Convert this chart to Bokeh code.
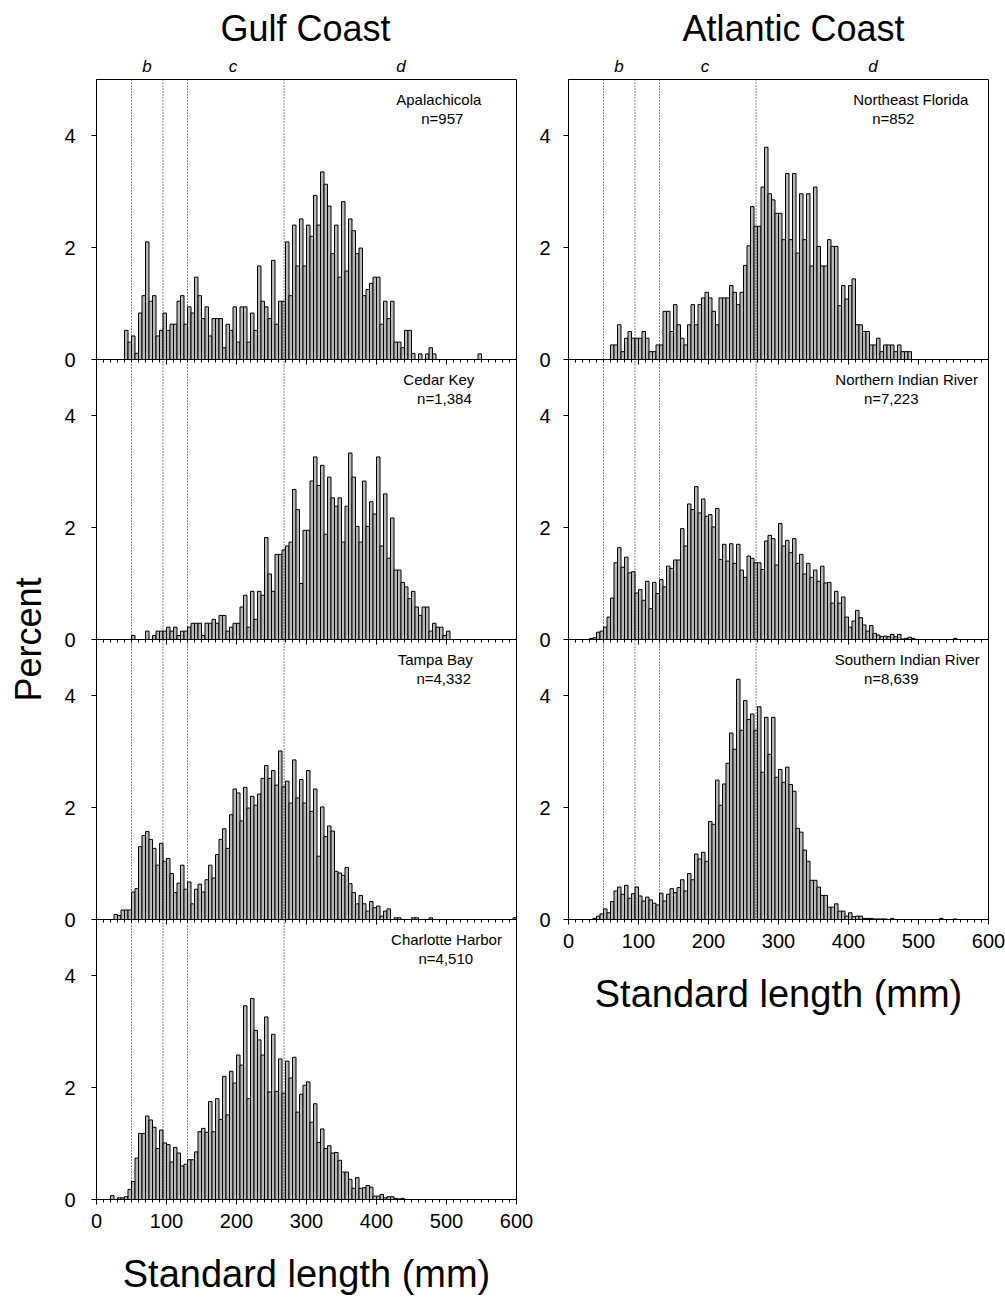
from bokeh.plotting import figure
from bokeh.models import (Range1d, LinearAxis, FixedTicker, SingleIntervalTicker,
                          Span, Label, Title, ColumnDataSource)
from bokeh.layouts import row
from bokeh.embed import file_html
from bokeh.resources import INLINE

FONT = "Liberation Sans"
BAR_FILL = "#b8b8b8"

# ---------------- data ----------------
bin_width = 5          # mm
x_limits = (0, 600)
y_limit = 5            # percent, per panel

age_bounds = [50, 95, 130, 268]
age_letters = ["b", "c", "d"]
age_letter_x = [72, 195, 435]
y_tick_values = [0, 2, 4]
y_tick_labels = ["0", "2", "4"]

gulf_sites = ["Apalachicola", "Cedar Key", "Tampa Bay", "Charlotte Harbor"]
gulf_counts = ["n=957", "n=1,384", "n=4,332", "n=4,510"]
atlantic_sites = ["Northeast Florida", "Northern Indian River", "Southern Indian River"]
atlantic_counts = ["n=852", "n=7,223", "n=8,639"]

# percent of fish per 5-mm bin; first value belongs to the bin starting at *_first
apalachicola_first = 40
apalachicola = [0.52, 0.31, 0.42, 0.11, 0.83, 1.14, 2.10, 1.04, 1.14, 0.42,
                0.52, 0.83, 0.52, 0.63, 0.63, 1.04, 1.14, 0.63, 0.94, 0.83,
                1.47, 1.14, 0.73, 0.94, 0.42, 0.73, 0.73, 0.73, 0.21, 0.63,
                0.52, 0.94, 0.31, 0.94, 0.94, 0.31, 0.83, 0.52, 1.67, 1.04,
                0.94, 0.73, 1.77, 0.63, 1.04, 1.04, 2.10, 1.14, 2.40, 1.67,
                2.51, 1.67, 2.40, 2.20, 2.93, 2.40, 3.35, 3.13, 2.74, 1.89,
                2.40, 1.47, 2.82, 1.58, 2.51, 2.30, 1.89, 1.99, 1.14, 1.25,
                1.36, 1.47, 1.47, 0.63, 1.04, 0.73, 1.04, 0.31, 0.31, 0.21,
                0.52, 0.52, 0.11, 0.00, 0.10, 0.00, 0.10, 0.21, 0.10, 0.00,
                0.00, 0.00, 0.00, 0.00, 0.00, 0.00, 0.00, 0.00, 0.00, 0.00,
                0.00, 0.10]

cedar_key_first = 50
cedar_key = [0.07, 0.00, 0.00, 0.00, 0.15, 0.00, 0.07, 0.15, 0.15, 0.15,
             0.22, 0.15, 0.22, 0.07, 0.15, 0.15, 0.22, 0.29, 0.29, 0.29,
             0.07, 0.29, 0.29, 0.36, 0.29, 0.43, 0.43, 0.15, 0.22, 0.29,
             0.29, 0.58, 0.79, 0.22, 0.86, 0.36, 0.86, 0.79, 1.82, 1.17,
             0.86, 1.52, 1.52, 1.60, 1.67, 1.74, 2.68, 2.32, 1.00, 1.95,
             1.95, 2.83, 3.26, 2.75, 3.11, 1.88, 2.90, 2.53, 2.38, 2.53,
             1.74, 2.38, 3.33, 2.90, 2.02, 1.74, 2.83, 2.02, 2.46, 2.24,
             3.26, 1.67, 2.60, 1.45, 2.17, 1.24, 1.24, 1.02, 0.94, 0.73,
             0.86, 0.58, 0.43, 0.58, 0.58, 0.15, 0.29, 0.22, 0.22, 0.07,
             0.15]

tampa_bay_first = 25
tampa_bay = [0.09, 0.07, 0.17, 0.17, 0.17,
             0.49, 0.55, 1.30, 1.50, 1.57, 1.43, 1.27, 0.97, 1.36, 1.04,
             1.09, 0.82, 0.48, 0.65, 0.97, 0.54, 0.67, 0.28, 0.54, 0.63,
             0.49, 0.71, 0.97, 0.74, 1.16, 1.43, 1.62, 1.27, 1.87, 2.33,
             2.26, 1.76, 2.36, 1.99, 2.20, 2.04, 2.24, 2.52, 2.75, 2.52,
             2.66, 2.40, 3.01, 2.37, 2.47, 2.08, 2.85, 2.17, 2.50, 2.08,
             2.66, 1.93, 2.33, 1.13, 2.01, 1.48, 1.67, 1.58, 0.86, 0.83,
             0.79, 0.93, 0.64, 0.48, 0.28, 0.43, 0.28, 0.15, 0.32, 0.21,
             0.24, 0.06, 0.15, 0.19, 0.00, 0.03, 0.03, 0.00, 0.00, 0.00,
             0.03, 0.03, 0.00, 0.00, 0.00, 0.03, 0.00, 0.00, 0.00, 0.00,
             0.00, 0.00, 0.00, 0.00, 0.00, 0.00, 0.00, 0.00, 0.00, 0.00,
             0.00, 0.00, 0.00, 0.00, 0.00, 0.00, 0.00, 0.00, 0.00, 0.03]

charlotte_harbor_first = 20
charlotte_harbor = [0.07, 0.00, 0.03, 0.03, 0.05, 0.18,
                    0.32, 0.74, 1.18, 1.18, 1.49, 1.42, 1.29, 0.91, 1.24, 1.01,
                    0.98, 0.67, 0.93, 0.83, 0.60, 0.63, 0.71, 0.71, 0.85, 1.21,
                    1.27, 1.20, 1.75, 1.21, 1.80, 1.43, 2.20, 1.51, 2.29, 2.08,
                    2.58, 2.40, 3.46, 1.80, 3.59, 3.02, 2.85, 2.58, 3.26, 1.92,
                    2.95, 1.93, 2.51, 1.90, 2.47, 2.17, 2.54, 1.56, 1.88, 2.04,
                    2.10, 1.38, 1.71, 1.02, 1.26, 0.91, 0.96, 0.83, 0.84, 0.70,
                    0.49, 0.49, 0.36, 0.20, 0.39, 0.20, 0.21, 0.25, 0.22, 0.06,
                    0.06, 0.09, 0.03, 0.05, 0.05, 0.02, 0.01, 0.02]

northeast_florida_first = 60
northeast_florida = [0.26, 0.26, 0.62, 0.14, 0.38, 0.50, 0.38, 0.38, 0.38, 0.50,
                     0.38, 0.14, 0.14, 0.26, 0.26, 0.86, 0.86, 0.50, 0.98, 0.62,
                     0.38, 0.26, 0.62, 0.98, 0.62, 0.98, 1.10, 1.20, 1.10, 0.86,
                     0.62, 1.10, 1.10, 1.10, 1.32, 1.20, 0.98, 1.20, 1.68, 2.03,
                     2.73, 2.38, 2.38, 3.08, 3.79, 2.96, 2.85, 2.61, 2.61, 2.14,
                     3.32, 2.14, 3.32, 1.90, 2.96, 2.14, 2.96, 1.67, 3.08, 2.02,
                     1.67, 1.67, 2.14, 2.02, 2.02, 0.96, 1.32, 1.08, 1.32, 1.44,
                     0.62, 0.62, 0.50, 0.50, 0.26, 0.26, 0.38, 0.14, 0.26, 0.26,
                     0.26, 0.14, 0.26, 0.14, 0.14, 0.14]

northern_indian_river_first = 30
northern_indian_river = [0.02, 0.03, 0.13, 0.15,
                         0.22, 0.40, 0.74, 1.37, 1.64, 1.29, 1.47, 1.19, 1.21, 0.83,
                         0.89, 0.70, 1.04, 0.55, 1.02, 0.82, 1.07, 0.94, 1.31, 1.27,
                         1.42, 1.42, 1.98, 1.67, 2.42, 2.32, 2.73, 2.26, 2.51, 2.20,
                         2.23, 2.01, 2.34, 1.43, 1.70, 1.40, 1.71, 1.36, 1.70, 1.24,
                         1.11, 1.49, 1.45, 1.37, 1.37, 1.25, 1.76, 1.86, 1.80, 1.33,
                         2.07, 1.67, 1.77, 1.55, 1.80, 1.36, 1.52, 1.17, 1.36, 1.11,
                         1.24, 1.04, 1.31, 1.01, 1.02, 0.65, 0.86, 0.65, 0.76, 0.40,
                         0.22, 0.33, 0.52, 0.39, 0.26, 0.15, 0.25, 0.11, 0.08, 0.05,
                         0.06, 0.05, 0.09, 0.05, 0.09, 0.01, 0.02, 0.04, 0.02, 0.00,
                         0.00, 0.00, 0.00, 0.00, 0.00, 0.00, 0.00, 0.00, 0.00, 0.00,
                         0.02]

southern_indian_river_first = 35
southern_indian_river = [0.02, 0.06, 0.10,
                         0.19, 0.12, 0.32, 0.51, 0.58, 0.45, 0.61, 0.38, 0.46, 0.58,
                         0.42, 0.33, 0.40, 0.35, 0.29, 0.26, 0.47, 0.33, 0.45, 0.55,
                         0.48, 0.57, 0.71, 0.51, 0.82, 0.71, 1.17, 1.08, 1.20, 1.04,
                         1.75, 1.70, 2.49, 2.04, 2.42, 2.79, 3.33, 3.04, 4.29, 3.38,
                         3.91, 3.57, 3.67, 3.38, 3.80, 2.63, 3.61, 2.95, 3.61, 2.54,
                         2.68, 2.45, 2.72, 2.41, 2.29, 1.63, 1.56, 1.24, 1.04, 0.70,
                         0.70, 0.58, 0.43, 0.43, 0.22, 0.22, 0.28, 0.15, 0.15, 0.06,
                         0.12, 0.05, 0.06, 0.06, 0.02, 0.02, 0.02, 0.01, 0.01, 0.01,
                         0.01, 0.00, 0.02, 0.00, 0.00, 0.00, 0.00, 0.00, 0.00, 0.00,
                         0.00, 0.00, 0.00, 0.00, 0.00, 0.00, 0.02, 0.00, 0.00, 0.00,
                         0.01]

gulf_series = [(apalachicola_first, apalachicola), (cedar_key_first, cedar_key),
               (tampa_bay_first, tampa_bay), (charlotte_harbor_first, charlotte_harbor)]
atlantic_series = [(northeast_florida_first, northeast_florida),
                   (northern_indian_river_first, northern_indian_river),
                   (southern_indian_river_first, southern_indian_river)]

# ---------------- layout constants ----------------
gulf_name_x = [489, 489, 484, 500]
gulf_count_x = [494, 497, 496, 499]
atlantic_name_x = [489, 483, 484]
atlantic_count_x = [464, 461, 461]
NAME_Y = 4.64
COUNT_Y = 4.31
PX_PER_UNIT = 56.0


def centers(first, values):
    return [first + bin_width * i + bin_width / 2 for i in range(len(values))]


def column_figure(series, sites, counts, name_x, count_x, title, title_offset,
                  border_left, border_right, y_label, y_standoff):
    n = len(series)
    p = figure(frame_width=420, frame_height=280 * n,
               x_range=Range1d(*x_limits), y_range=Range1d(0, y_limit * n),
               min_border_left=border_left, min_border_right=border_right,
               min_border_top=77, min_border_bottom=106,
               output_backend="svg", toolbar_location=None, title=None)
    p.background_fill_color = "white"
    p.border_fill_color = "white"
    p.outline_line_color = "black"
    p.outline_line_width = 1
    p.xgrid.visible = False
    p.ygrid.visible = False

    ranges = {}
    for k in range(n):
        offset = y_limit * (n - 1 - k)
        ranges[f"panel{k}"] = Range1d(-offset, y_limit * n - offset)
    p.extra_y_ranges = ranges

    for k, (first, values) in enumerate(series):
        name = f"panel{k}"
        src = ColumnDataSource(dict(x=centers(first, values), top=values))
        p.vbar(x="x", top="top", bottom=0, width=bin_width, source=src,
               y_range_name=name, fill_color=BAR_FILL, line_color="black",
               line_width=1)
        p.add_layout(Label(x=name_x[k], y=NAME_Y, y_range_name=name, text=sites[k],
                           text_align="center", text_baseline="middle",
                           text_font=FONT, text_font_size="15px", text_color="black"))
        p.add_layout(Label(x=count_x[k], y=COUNT_Y, y_range_name=name, text=counts[k],
                           text_align="center", text_baseline="middle",
                           text_font=FONT, text_font_size="15px", text_color="black"))

    # panel separators with inward ticks
    tick_x = list(range(x_limits[0], x_limits[1] + 1, 10))
    for k in range(1, n):
        b = y_limit * (n - k)
        p.add_layout(Span(location=b, dimension="width", line_color="black", line_width=1))
        y1 = [b - (5 if t % 100 == 0 else 3) / PX_PER_UNIT for t in tick_x]
        p.segment(x0=tick_x, y0=[b] * len(tick_x), x1=tick_x, y1=y1,
                  line_color="black", line_width=1)

    for v in age_bounds:
        p.add_layout(Span(location=v, dimension="height", line_color="black",
                          line_width=1, line_dash="1 2"))

    # bottom axis
    xa = p.xaxis[0]
    xa.ticker = SingleIntervalTicker(interval=100, num_minor_ticks=10)
    xa.major_tick_out = 5
    xa.major_tick_in = 0
    xa.minor_tick_out = 3
    xa.minor_tick_in = 0
    xa.axis_line_color = "black"
    xa.major_tick_line_color = "black"
    xa.minor_tick_line_color = "black"
    xa.major_label_text_font = FONT
    xa.major_label_text_font_size = "20px"
    xa.major_label_text_color = "black"
    xa.major_label_standoff = 9
    xa.axis_label = "Standard length (mm)"
    xa.axis_label_text_font = FONT
    xa.axis_label_text_font_size = "38px"
    xa.axis_label_text_font_style = "normal"
    xa.axis_label_text_color = "black"
    xa.axis_label_standoff = 22

    # left axis
    ya = p.yaxis[0]
    ticks, overrides = [], {}
    for k in range(n):
        offset = y_limit * (n - 1 - k)
        for t, lab in zip(y_tick_values, y_tick_labels):
            ticks.append(offset + t)
            overrides[offset + t] = lab
    ya.ticker = FixedTicker(ticks=sorted(ticks), minor_ticks=[])
    ya.major_label_overrides = overrides
    ya.major_tick_out = 5
    ya.major_tick_in = 0
    ya.minor_tick_out = 0
    ya.minor_tick_in = 0
    ya.axis_line_color = "black"
    ya.major_tick_line_color = "black"
    ya.major_label_text_font = FONT
    ya.major_label_text_font_size = "20px"
    ya.major_label_text_color = "black"
    ya.major_label_standoff = y_standoff
    if y_label:
        ya.axis_label = y_label
        ya.axis_label_text_font = FONT
        ya.axis_label_text_font_size = "36px"
        ya.axis_label_text_font_style = "normal"
        ya.axis_label_text_color = "black"
        ya.axis_label_standoff = 12

    # age-class letters above the top panel
    top_axis = LinearAxis(ticker=FixedTicker(ticks=age_letter_x, minor_ticks=[]),
                          major_label_overrides=dict(zip(age_letter_x, age_letters)),
                          major_tick_out=0, major_tick_in=0,
                          minor_tick_out=0, minor_tick_in=0,
                          axis_line_color=None, major_label_standoff=4,
                          major_label_text_font=FONT,
                          major_label_text_font_size="17px",
                          major_label_text_color="black",
                          major_label_text_font_style="italic")
    p.add_layout(top_axis, "above")
    p.add_layout(Title(text=title, align="left", offset=title_offset,
                       text_font=FONT, text_font_size="36px",
                       text_font_style="normal", text_color="black"), "above")
    return p


left = column_figure(gulf_series, gulf_sites, gulf_counts, gulf_name_x, gulf_count_x,
                     "Gulf Coast", 124, 96, 20, "Percent", 16)
right = column_figure(atlantic_series, atlantic_sites, atlantic_counts,
                      atlantic_name_x, atlantic_count_x,
                      "Atlantic Coast", 114, 31, 18, None, 13)

layout = row(left, right)
open("out.html", "w").write(file_html(layout, INLINE))
